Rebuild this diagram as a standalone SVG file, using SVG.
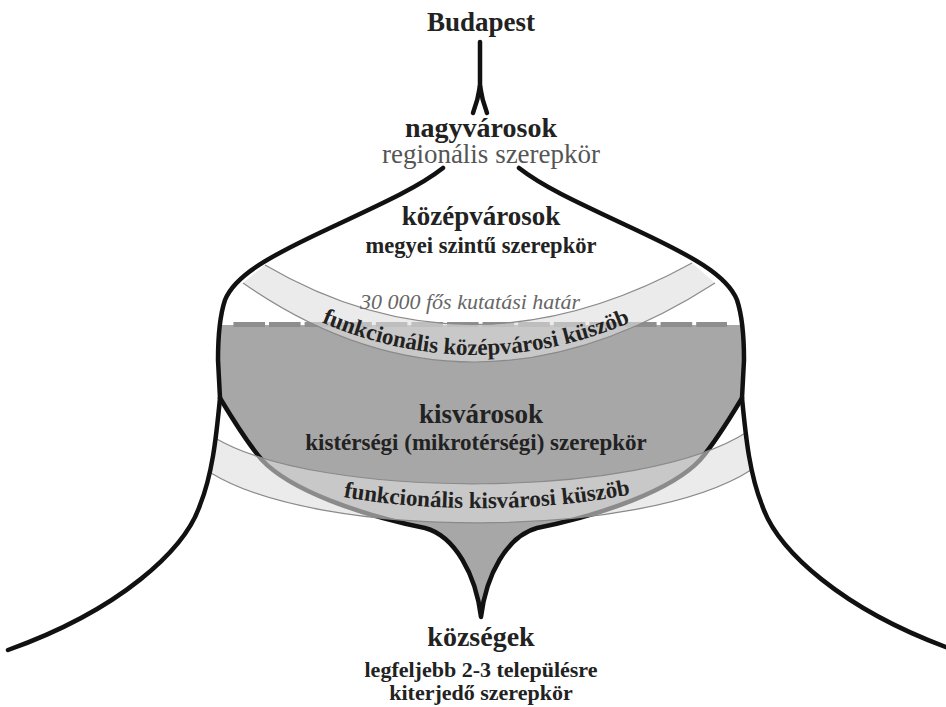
<svg xmlns="http://www.w3.org/2000/svg" width="946" height="707" viewBox="0 0 946 707">
<defs>
<style>
.b{font-family:"Liberation Serif","Times New Roman",serif;font-weight:bold;fill:#222;text-anchor:middle}
.r{font-family:"Liberation Serif","Times New Roman",serif;fill:#555;text-anchor:middle}
.it{font-family:"Liberation Serif","Times New Roman",serif;font-style:italic;fill:#666;text-anchor:middle}
.ol{fill:none;stroke:#111;stroke-width:4.5;stroke-linejoin:round;stroke-linecap:round}
.band{fill:#dedede;fill-opacity:0.6;stroke:none}
.edge{fill:none;stroke:#8a8a8a;stroke-width:1.2}
</style>
<path id="ol-left" d="M 443,168 C 420,186 390,200 330,228 C 270,256 235,275 225,300 C 219,318 218,340 218,360 L 220,398 C 216,440 212,475 200,505 C 185,550 120,610 8,650"/>
<path id="tp1" d="M 245,282 Q 476,428 707,282"/>
<path id="tp2" d="M 234,460 C 334,525 634,525 739,455"/>
</defs>
<rect width="946" height="707" fill="#fff"/>

<g id="bowl">
<path d="M 219,325 L 743,325 L 744,360 L 742,398 C 730,418 717,440 700,460 C 672,490 602,515 537,528 C 507,536 486,575 481,617 C 476,575 455,536 425,528 C 360,515 290,490 262,460 C 245,440 232,418 220,398 L 218,360 Z" fill="#a7a7a7"/>
<path d="M 233.4,324.5 H 727" stroke="#8e8e8e" stroke-width="5" stroke-dasharray="31.6 4" fill="none"/>
<path class="ol" d="M 742,398 C 730,418 717,440 700,460 C 672,490 602,515 537,528 C 507,536 486,575 481,617 C 476,575 455,536 425,528 C 360,515 290,490 262,460 C 245,440 232,418 220,398" stroke-width="4"/>
</g>

<g id="upper-band">
<path class="band" d="M 265,265 Q 470,385 692,263 L 715,283 Q 470,441 243,283 Z"/>
<path class="edge" d="M 265,265 Q 470,385 692,263"/>
<path class="edge" d="M 243,283 Q 470,441 715,283"/>
</g>

<g id="lower-band">
<path class="band" d="M 215,438 C 320,500 642,500 747,432 L 751,470 C 642,540 320,540 211,473 Z"/>
<path class="edge" d="M 215,438 C 320,500 642,500 747,432"/>
<path class="edge" d="M 211,473 C 320,540 642,540 751,470"/>
</g>

<g id="connectors">
<use href="#ol-left" class="ol"/>
<use href="#ol-left" class="ol" transform="matrix(-1 0 0 1 962 0)"/>
<path class="ol" d="M 480,42 L 480,90" stroke-width="6"/>
<path class="ol" d="M 480,86 Q 478,100 473,113"/>
<path class="ol" d="M 480,86 Q 482,100 487,113"/>
</g>

<g id="budapest"><text class="b" x="481" y="31" font-size="27">Budapest</text></g>
<g id="nagyvarosok">
<text class="b" x="481" y="137" font-size="28">nagyvárosok</text>
<text class="r" x="491" y="163" font-size="27">regionális szerepkör</text>
</g>
<g id="kozepvarosok">
<text class="b" x="481" y="225" font-size="27">középvárosok</text>
<text class="b" x="481" y="253" font-size="22.5">megyei szintű szerepkör</text>
</g>
<g id="hatar"><text class="it" x="470" y="309" font-size="22">30 000 fős kutatási határ</text></g>
<g id="kozep-kuszob"><text class="b" font-size="23"><textPath href="#tp1" startOffset="50%">funkcionális középvárosi küszöb</textPath></text></g>
<g id="kisvarosok">
<text class="b" x="481" y="423" font-size="27">kisvárosok</text>
<text class="b" x="476" y="450" font-size="23">kistérségi (mikrotérségi) szerepkör</text>
</g>
<g id="kis-kuszob"><text class="b" font-size="23"><textPath href="#tp2" startOffset="50%">funkcionális kisvárosi küszöb</textPath></text></g>
<g id="kozsegek">
<text class="b" x="481" y="646" font-size="28">községek</text>
<text class="b" x="481" y="677" font-size="22">legfeljebb 2-3 településre</text>
<text class="b" x="481" y="700" font-size="22">kiterjedő szerepkör</text>
</g>
</svg>
